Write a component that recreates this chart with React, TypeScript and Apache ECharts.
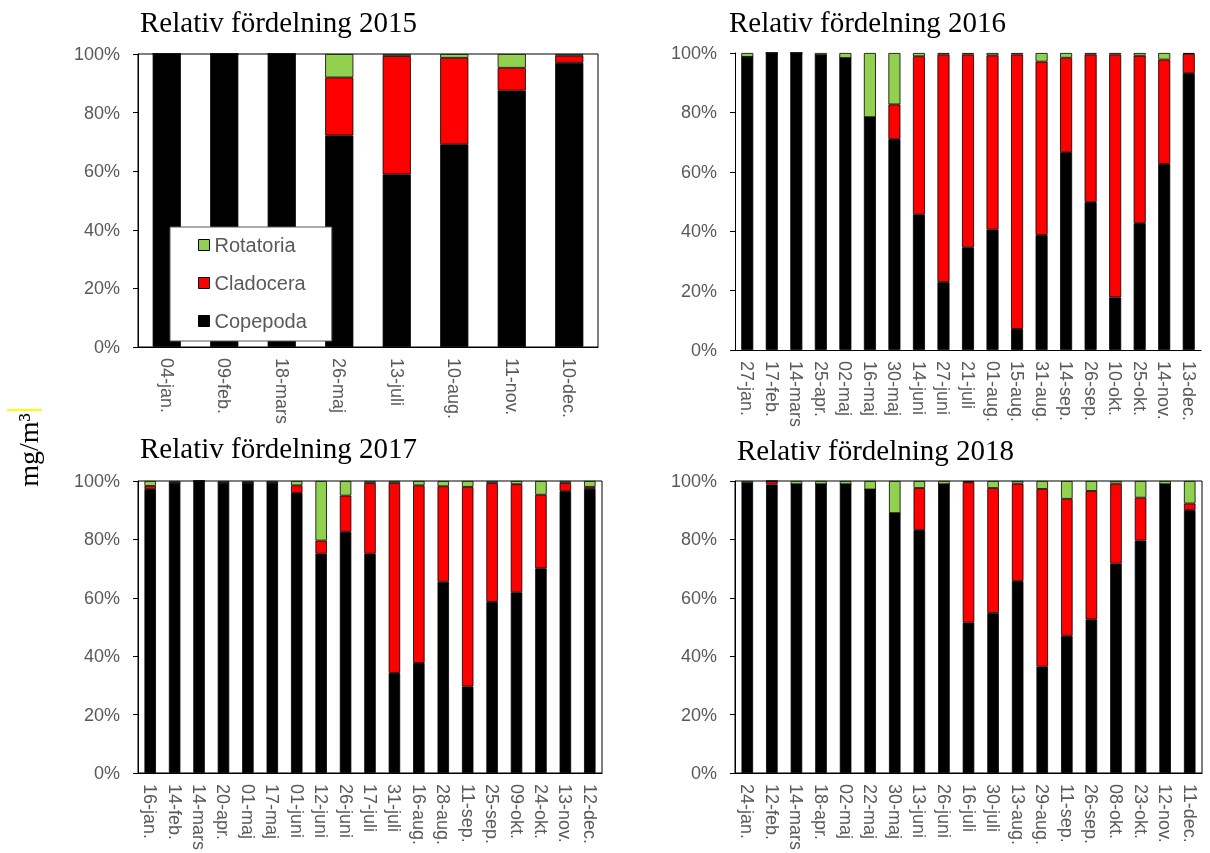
import React, { useEffect, useRef } from "react";
import * as echarts from "echarts";

const speciesNames = ["Copepoda", "Cladocera", "Rotatoria"];
const legendOrder = ["Rotatoria", "Cladocera", "Copepoda"];
const colors: Record<string, string> = { Copepoda: "#000000", Cladocera: "#FF0000", Rotatoria: "#92D050" };

const titles = ["Relativ fördelning 2015", "Relativ fördelning 2016", "Relativ fördelning 2017", "Relativ fördelning 2018"];

const dates2015 = ["04-jan.", "09-feb.", "18-mars", "26-maj", "13-juli", "10-aug.", "11-nov.", "10-dec."];
const cope2015 = [100, 100, 100, 72.2, 58.9, 69.2, 87.5, 97.0];
const clad2015 = [0, 0, 0, 19.8, 40.4, 29.5, 7.8, 2.4];
const rota2015 = [0, 0, 0, 8.0, 0.7, 1.3, 4.7, 0.6];

const dates2016 = ["27-jan.", "17-feb.", "14-mars", "25-apr.", "02-maj", "16-maj", "30-maj", "14-juni", "27-juni", "21-juli", "01-aug.", "15-aug.", "31-aug.", "14-sep.", "26-sep.", "10-okt.", "25-okt.", "14-nov.", "13-dec."];
const cope2016 = [98.7, 100, 100, 99.3, 98.3, 78.4, 71.0, 45.7, 22.9, 34.6, 40.5, 7.1, 38.7, 66.6, 49.8, 17.7, 42.7, 62.6, 93.2];
const clad2016 = [0, 0, 0, 0, 0, 0, 11.7, 53.2, 76.6, 64.9, 58.7, 92.4, 58.4, 31.8, 49.7, 81.8, 56.4, 35.2, 6.5];
const rota2016 = [1.3, 0, 0, 0.7, 1.7, 21.6, 17.3, 1.1, 0.5, 0.5, 0.8, 0.5, 2.9, 1.6, 0.5, 0.5, 0.9, 2.2, 0.3];

const dates2017 = ["16-jan.", "14-feb.", "14-mars", "20-apr.", "01-maj", "17-maj", "01-juni", "12-juni", "26-juni", "17-juli", "31-juli", "16-aug.", "28-aug.", "11-sep.", "25-sep.", "09-okt.", "24-okt.", "13-nov.", "12-dec."];
const cope2017 = [97.2, 99.4, 100, 99.4, 99.4, 99.4, 95.9, 75.1, 82.6, 75.1, 34.3, 37.7, 65.5, 29.6, 58.6, 61.9, 70.1, 96.5, 97.3];
const clad2017 = [1.1, 0, 0, 0, 0, 0, 2.6, 4.5, 12.4, 24.2, 65.0, 60.8, 32.7, 68.4, 40.7, 37.0, 25.2, 2.8, 0.7];
const rota2017 = [1.7, 0.6, 0, 0.6, 0.6, 0.6, 1.5, 20.4, 5.0, 0.7, 0.7, 1.5, 1.8, 2.0, 0.7, 1.1, 4.7, 0.7, 2.0];

const dates2018 = ["24-jan.", "12-feb.", "14-mars", "18-apr.", "02-maj", "22-maj", "30-maj", "13-juni", "26-juni", "16-juli", "30-juli", "13-aug.", "29-aug.", "11-sep.", "26-sep.", "08-okt.", "23-okt.", "12-nov.", "11-dec."];
const cope2018 = [99.3, 98.8, 98.9, 98.9, 98.9, 97.1, 89.0, 83.2, 98.9, 51.5, 54.8, 65.7, 36.4, 47.0, 52.6, 71.7, 79.6, 98.9, 90.0];
const clad2018 = [0, 1.2, 0, 0, 0, 0, 0, 14.4, 0, 48.1, 42.8, 33.4, 60.9, 46.9, 44.0, 27.4, 14.7, 0, 2.3];
const rota2018 = [0.7, 0, 1.1, 1.1, 1.1, 2.9, 11.0, 2.4, 1.1, 0.4, 2.4, 0.9, 2.7, 6.1, 3.4, 0.9, 5.7, 1.1, 7.7];

const yTicks = [0, 20, 40, 60, 80, 100];

const panels = [
  { dates: dates2015, data: [cope2015, clad2015, rota2015] },
  { dates: dates2016, data: [cope2016, clad2016, rota2016] },
  { dates: dates2017, data: [cope2017, clad2017, rota2017] },
  { dates: dates2018, data: [cope2018, clad2018, rota2018] },
];

const SANS = "'Liberation Sans', Arial, sans-serif";
const SERIF = "'Liberation Serif', 'Times New Roman', serif";

export default function App() {
  const ref = useRef<HTMLDivElement>(null);
  useEffect(() => {
    if (!ref.current) return;
    const chart = echarts.init(ref.current, undefined, { renderer: "svg" });
    const grids = [
      { left: 138, top: 54, width: 460, height: 293, box: true, barW: "49%" },
      { left: 735, top: 53, width: 466, height: 297, box: false, barW: "49%" },
      { left: 138, top: 481, width: 464, height: 297, box: true, barW: "47%" },
      { left: 735, top: 481, width: 467, height: 297, box: true, barW: "47%" },
    ];
    const titlePos = [
      { left: 140, top: 7 },
      { left: 729, top: 7 },
      { left: 140, top: 433 },
      { left: 737, top: 435 },
    ];
    const series: any[] = [];
    panels.forEach((p, i) => {
      speciesNames.forEach((name, k) => {
        series.push({
          type: "bar",
          name,
          stack: "s" + i,
          xAxisIndex: i,
          yAxisIndex: i,
          barWidth: grids[i].barW,
          data: p.data[k],
          itemStyle: { color: colors[name], borderColor: "#000", borderWidth: 0.8 },
          emphasis: { disabled: true },
        });
      });
    });
    const option: any = {
      animation: false,
      textStyle: { fontFamily: SANS },
      title: titles.map((t, i) => ({
        text: t,
        left: titlePos[i].left,
        top: titlePos[i].top,
        padding: 0,
        textStyle: { fontFamily: SERIF, fontSize: 29, fontWeight: "normal", color: "#000" },
      })),
      grid: grids.map((g) => ({
        left: g.left,
        top: g.top,
        width: g.width,
        height: g.height,
        show: g.box,
        borderColor: "#000",
        borderWidth: 1,
        backgroundColor: "transparent",
      })),
      xAxis: panels.map((p, i) => ({
        type: "category",
        gridIndex: i,
        data: p.dates,
        axisLine: { show: true, lineStyle: { color: "#000", width: 1 } },
        axisTick: { show: false },
        axisLabel: { interval: 0, rotate: -90, color: "#595959", fontSize: 18, margin: 11, fontFamily: SANS },
      })),
      yAxis: panels.map((_, i) => ({
        type: "value",
        gridIndex: i,
        min: yTicks[0],
        max: yTicks[yTicks.length - 1],
        interval: yTicks[1] - yTicks[0],
        axisLine: { show: true, lineStyle: { color: "#000", width: 1 } },
        axisTick: { show: true, length: 5, lineStyle: { color: "#000" } },
        splitLine: { show: false },
        axisLabel: { formatter: "{value}%", color: "#595959", fontSize: 18, margin: 18, fontFamily: SANS },
      })),
      legend: {
        data: legendOrder.map((n) => ({ name: n, icon: "rect" })),
        orient: "vertical",
        left: 170,
        top: 227,
        itemWidth: 11,
        itemHeight: 11,
        itemGap: 18,
        padding: [8, 25, 10, 28],
        backgroundColor: "#fff",
        borderColor: "#595959",
        borderWidth: 1,
        selectedMode: false,
        z: 10,
        textStyle: { fontSize: 20, color: "#595959", fontFamily: SANS },
        itemStyle: { borderColor: "#000", borderWidth: 1 },
      },
      graphic: [
        {
          type: "line",
          shape: { x1: 7, y1: 410, x2: 42, y2: 410 },
          style: { stroke: "#FFFF00", lineWidth: 2 },
        },
        {
          type: "text",
          x: 28,
          y: 450,
          rotation: Math.PI / 2,
          style: {
            text: "mg/m³",
            font: "28px 'Liberation Serif', 'Times New Roman', serif",
            fill: "#000",
            align: "center",
            verticalAlign: "middle",
          },
        },
      ],
      series,
    };
    chart.setOption(option);
    return () => chart.dispose();
  }, []);
  return <div ref={ref} style={{ position: "fixed", left: 0, top: 0, width: 1210, height: 853 }} />;
}
